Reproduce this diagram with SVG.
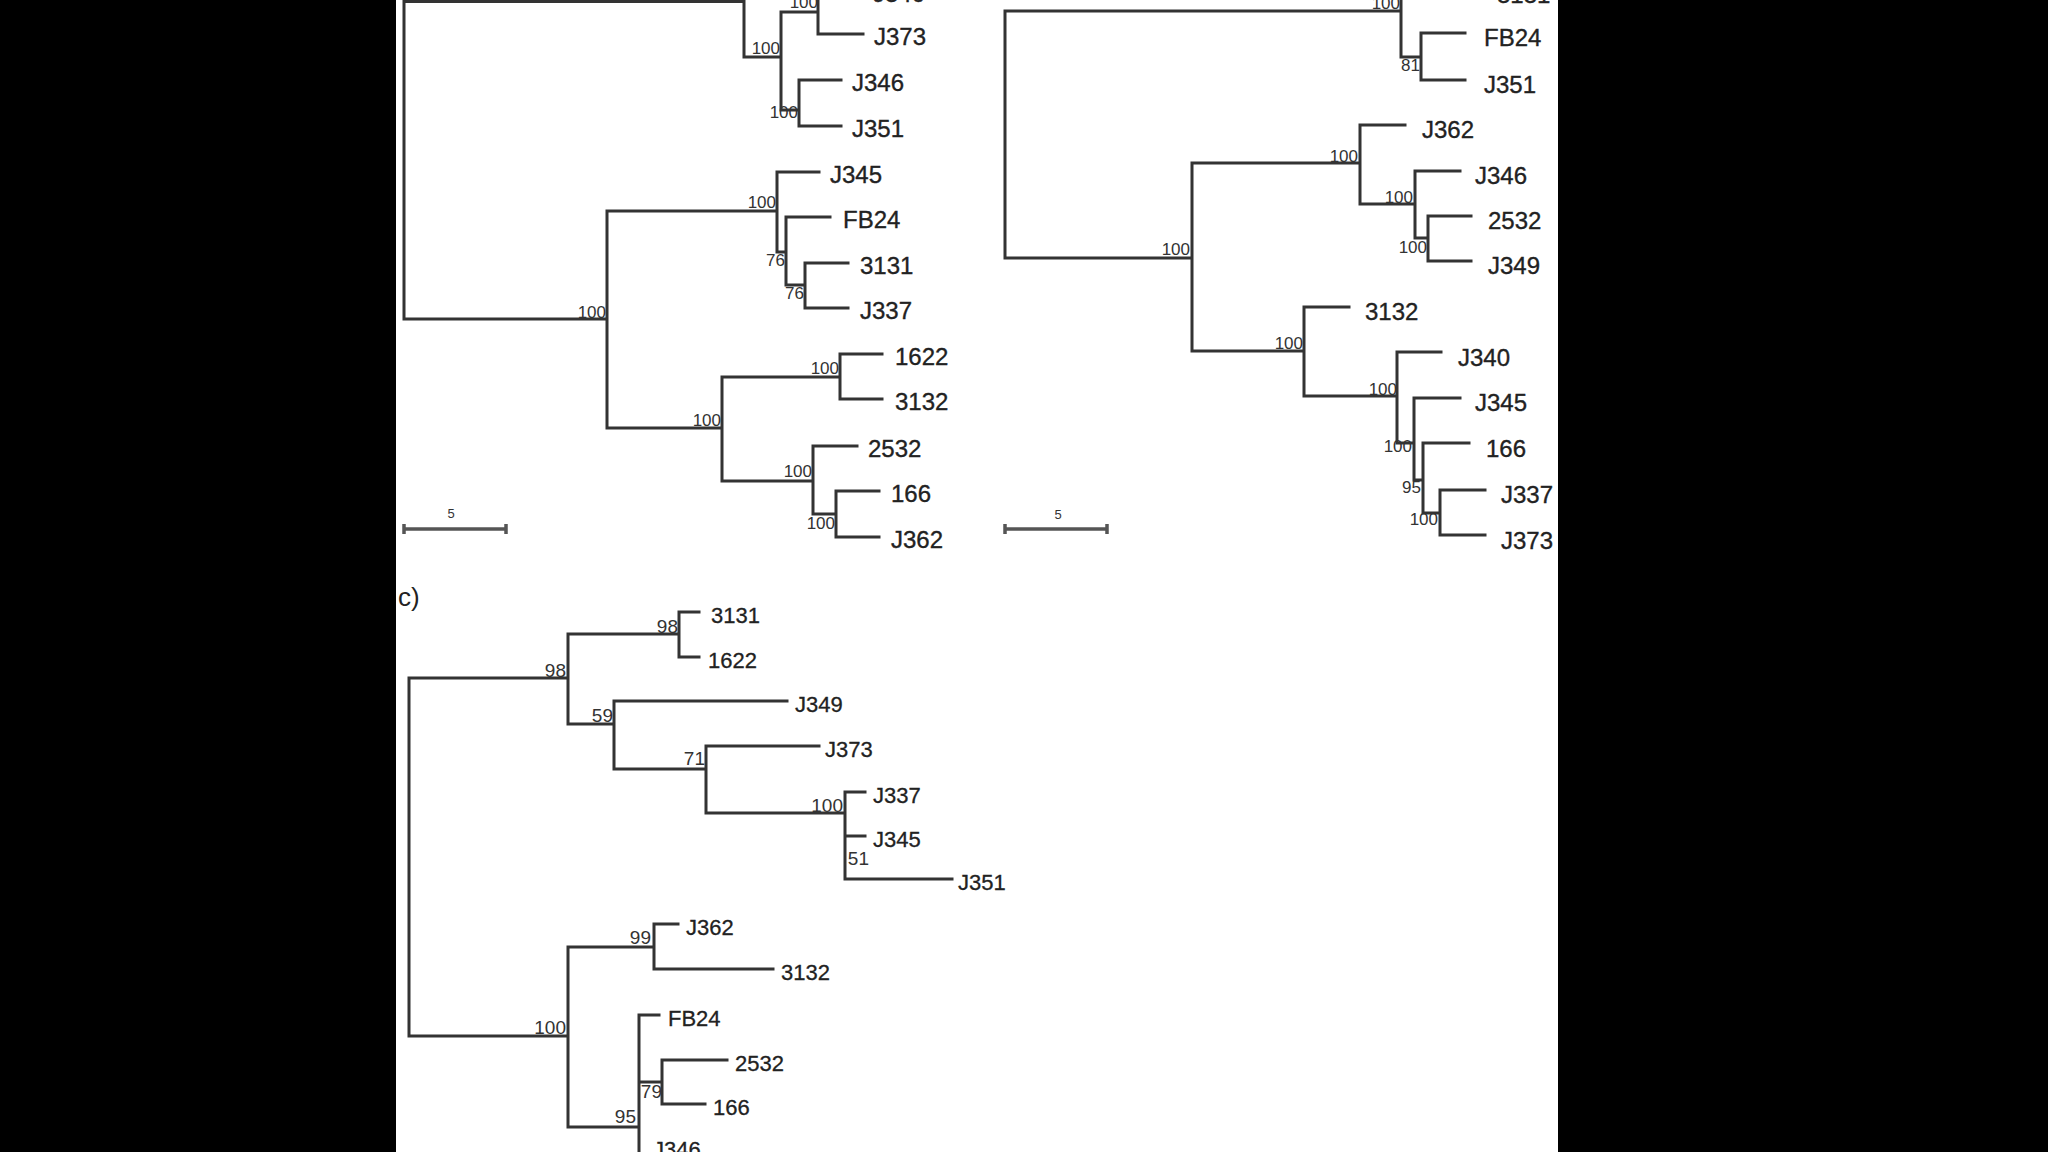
<svg xmlns="http://www.w3.org/2000/svg" width="2048" height="1152" viewBox="0 0 2048 1152">
<style>
.br{fill:none;stroke:#333;stroke-width:3;stroke-linecap:square}
.sb{fill:none;stroke:#555;stroke-width:3.5}
.lf{font-family:"Liberation Sans",Arial,sans-serif;font-size:24px;fill:#222;stroke:#222;stroke-width:0.35}
.lc{font-family:"Liberation Sans",Arial,sans-serif;font-size:22px;fill:#222;stroke:#222;stroke-width:0.3}
.bs{font-family:"Liberation Sans",Arial,sans-serif;font-size:17px;fill:#333;text-anchor:end}
.bc{font-family:"Liberation Sans",Arial,sans-serif;font-size:19px;fill:#333;text-anchor:end}
.sc{font-family:"Liberation Sans",Arial,sans-serif;font-size:13px;fill:#333;text-anchor:middle}
</style>
<rect x="0" y="0" width="2048" height="1152" fill="#000"/>
<rect x="396" y="0" width="1162" height="1152" fill="#fff"/>
<g id="connectors">
<path class="br" d="M404 1.5 V319 M404 1.5 H744 M744 -20 V57 M744 57 H781 M781 12 V110 M781 12 H818 M818 -10 V34 M818 34 H863 M781 110 H799 M799 80 V126 M799 80 H841 M799 126 H841 M404 319 H607 M607 211 V428 M607 211 H777 M777 172 V252 M777 172 H819 M777 252 H786 M786 217 V285 M786 217 H830 M786 285 H805 M805 263 V308 M805 263 H848 M805 308 H848 M607 428 H722 M722 377 V481 M722 377 H840 M840 354 V399 M840 354 H882 M840 399 H882 M722 481 H813 M813 446 V514 M813 446 H857 M813 514 H836 M836 491 V537 M836 491 H879 M836 537 H879"/>
<path class="br" d="M1005 11 V258 M1005 11 H1401 M1401 -35 V57 M1401 57 H1421 M1421 33 V80 M1421 33 H1465 M1421 80 H1465 M1005 258 H1192 M1192 163 V351 M1192 163 H1360 M1360 125 V204 M1360 125 H1405 M1360 204 H1415 M1415 171 V238 M1415 171 H1460 M1415 238 H1428 M1428 216 V261 M1428 216 H1471 M1428 261 H1471 M1192 351 H1304 M1304 307 V396 M1304 307 H1349 M1304 396 H1397 M1397 352 V443 M1397 352 H1441 M1397 443 H1414 M1414 398 V480 M1414 398 H1460 M1414 480 H1423 M1423 443 V513 M1423 443 H1469 M1423 513 H1440 M1440 490 V535 M1440 490 H1485 M1440 535 H1485"/>
<path class="br" d="M409 678 V1036 M409 678 H568 M568 634 V724 M568 634 H679 M679 612 V657 M679 612 H699 M679 657 H699 M568 724 H614 M614 701 V769 M614 701 H787 M614 769 H706 M706 746 V813 M706 746 H819 M706 813 H845 M845 792 V879 M845 792 H865 M845 836 H865 M845 879 H952 M409 1036 H568 M568 947 V1127 M568 947 H654 M654 924 V969 M654 924 H678 M654 969 H773 M568 1127 H639 M639 1015 V1160 M639 1015 H659 M639 1082 H662 M662 1060 V1104 M662 1060 H727 M662 1104 H705"/>
</g>
<g id="scale-a">
<path class="sb" d="M404 529 H506 M404 524 V534 M506 524 V534"/>
<text class="sc" x="451" y="518">5</text>
</g>
<g id="scale-b">
<path class="sb" d="M1005 529 H1107 M1005 524 V534 M1107 524 V534"/>
<text class="sc" x="1058" y="519">5</text>
</g>
<g id="panel-a-labels">
<g id="a-J340"><text class="lf" x="873" y="2">J340</text></g>
<g id="a-J373"><text class="lf" x="874" y="45">J373</text></g>
<g id="a-J346"><text class="lf" x="852" y="91">J346</text></g>
<g id="a-J351"><text class="lf" x="852" y="137">J351</text></g>
<g id="a-J345"><text class="lf" x="830" y="183">J345</text></g>
<g id="a-FB24"><text class="lf" x="843" y="228">FB24</text></g>
<g id="a-3131"><text class="lf" x="860" y="274">3131</text></g>
<g id="a-J337"><text class="lf" x="860" y="319">J337</text></g>
<g id="a-1622"><text class="lf" x="895" y="365">1622</text></g>
<g id="a-3132"><text class="lf" x="895" y="410">3132</text></g>
<g id="a-2532"><text class="lf" x="868" y="457">2532</text></g>
<g id="a-166"><text class="lf" x="891" y="502">166</text></g>
<g id="a-J362"><text class="lf" x="891" y="548">J362</text></g>
</g>
<g id="panel-a-support">
<text class="bs" x="818" y="8">100</text>
<text class="bs" x="780" y="54">100</text>
<text class="bs" x="798" y="118">100</text>
<text class="bs" x="606" y="318">100</text>
<text class="bs" x="776" y="208">100</text>
<text class="bs" x="785" y="266">76</text>
<text class="bs" x="804" y="299">76</text>
<text class="bs" x="721" y="426">100</text>
<text class="bs" x="839" y="374">100</text>
<text class="bs" x="812" y="477">100</text>
<text class="bs" x="835" y="529">100</text>
</g>
<g id="panel-b-labels">
<g id="b-3131"><text class="lf" x="1497" y="3">3131</text></g>
<g id="b-FB24"><text class="lf" x="1484" y="46">FB24</text></g>
<g id="b-J351"><text class="lf" x="1484" y="93">J351</text></g>
<g id="b-J362"><text class="lf" x="1422" y="138">J362</text></g>
<g id="b-J346"><text class="lf" x="1475" y="184">J346</text></g>
<g id="b-2532"><text class="lf" x="1488" y="229">2532</text></g>
<g id="b-J349"><text class="lf" x="1488" y="274">J349</text></g>
<g id="b-3132"><text class="lf" x="1365" y="320">3132</text></g>
<g id="b-J340"><text class="lf" x="1458" y="366">J340</text></g>
<g id="b-J345"><text class="lf" x="1475" y="411">J345</text></g>
<g id="b-166"><text class="lf" x="1486" y="457">166</text></g>
<g id="b-J337"><text class="lf" x="1501" y="503">J337</text></g>
<g id="b-J373"><text class="lf" x="1501" y="549">J373</text></g>
</g>
<g id="panel-b-support">
<text class="bs" x="1400" y="9">100</text>
<text class="bs" x="1420" y="71">81</text>
<text class="bs" x="1190" y="255">100</text>
<text class="bs" x="1358" y="162">100</text>
<text class="bs" x="1413" y="203">100</text>
<text class="bs" x="1427" y="253">100</text>
<text class="bs" x="1303" y="349">100</text>
<text class="bs" x="1397" y="395">100</text>
<text class="bs" x="1412" y="452">100</text>
<text class="bs" x="1421" y="493">95</text>
<text class="bs" x="1438" y="525">100</text>
</g>
<g id="panel-c-title"><text x="398" y="606" font-family="Liberation Sans, Arial, sans-serif" font-size="26" fill="#222">c)</text></g>
<g id="panel-c-labels">
<g id="c-3131"><text class="lc" x="711" y="623">3131</text></g>
<g id="c-1622"><text class="lc" x="708" y="668">1622</text></g>
<g id="c-J349"><text class="lc" x="795" y="712">J349</text></g>
<g id="c-J373"><text class="lc" x="825" y="757">J373</text></g>
<g id="c-J337"><text class="lc" x="873" y="803">J337</text></g>
<g id="c-J345"><text class="lc" x="873" y="847">J345</text></g>
<g id="c-J351"><text class="lc" x="958" y="890">J351</text></g>
<g id="c-J362"><text class="lc" x="686" y="935">J362</text></g>
<g id="c-3132"><text class="lc" x="781" y="980">3132</text></g>
<g id="c-FB24"><text class="lc" x="668" y="1026">FB24</text></g>
<g id="c-2532"><text class="lc" x="735" y="1071">2532</text></g>
<g id="c-166"><text class="lc" x="713" y="1115">166</text></g>
<g id="c-J346"><text class="lc" x="653" y="1157">J346</text></g>
</g>
<g id="panel-c-support">
<text class="bc" x="566" y="677">98</text>
<text class="bc" x="678" y="633">98</text>
<text class="bc" x="613" y="722">59</text>
<text class="bc" x="705" y="765">71</text>
<text class="bc" x="843" y="812">100</text>
<text class="bc" x="869" y="865">51</text>
<text class="bc" x="566" y="1034">100</text>
<text class="bc" x="651" y="944">99</text>
<text class="bc" x="636" y="1123">95</text>
<text class="bc" x="662" y="1098">79</text>
</g>
</svg>
